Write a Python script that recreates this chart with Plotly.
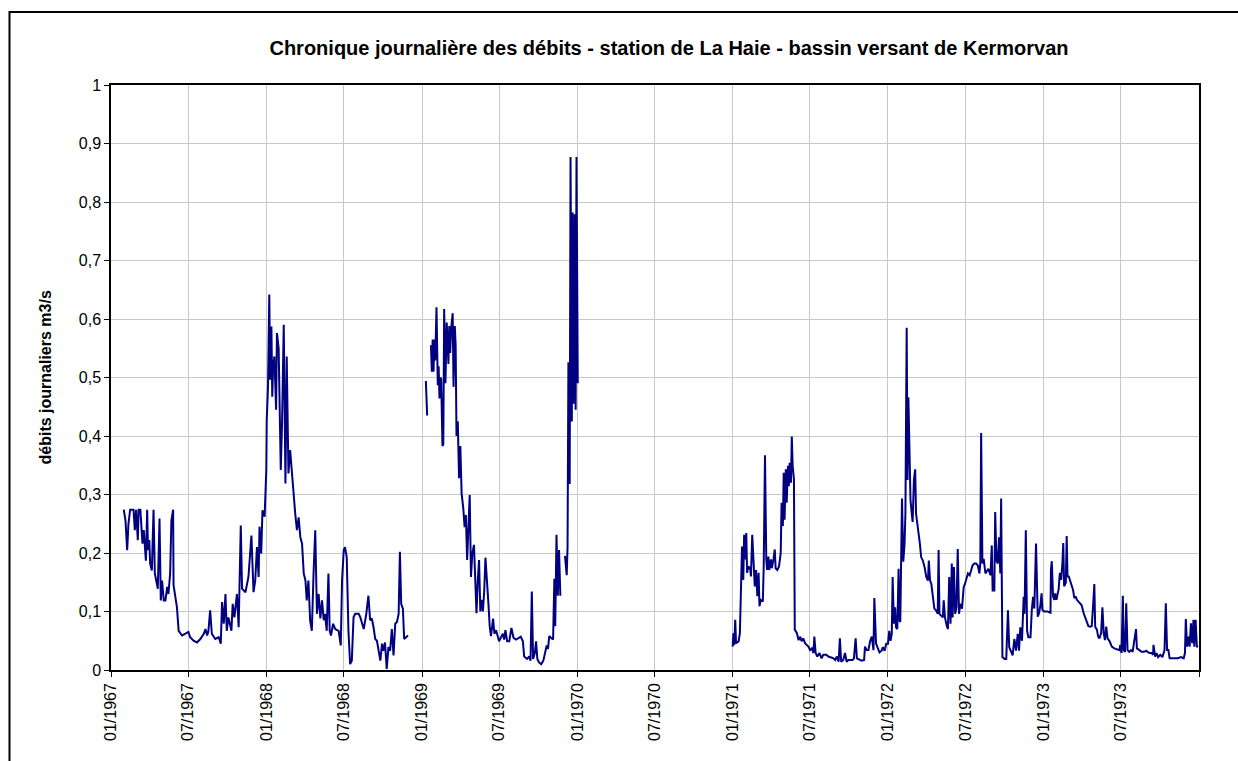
import pandas as pd
import plotly.graph_objects as go

BASE_DATE = "1967-01-01"

# Day index counted from 1967-01-01, daily flow (m3/s)
days_1967_68 = [30, 34, 38, 41, 45, 53, 56, 59, 63, 65,
                69, 71, 74, 77, 79, 82, 85, 87, 90, 92,
                96, 100, 103, 106, 110, 114, 117, 120, 124, 128,
                132, 135, 139, 142, 146, 147, 151, 155, 159, 167,
                175, 182, 186, 194, 202, 210, 218, 222, 226, 229,
                233, 237, 245, 253, 258, 261, 265, 269, 272, 276,
                283, 286, 290, 296, 300, 305, 308, 316, 323, 330,
                335, 339, 343, 347, 349, 353, 356, 361, 365,
                366, 369, 372, 374, 377, 379, 381, 384, 388, 390,
                394, 399, 402, 406, 410, 413, 417, 421, 425, 429,
                433, 437, 441, 445, 449, 453, 457, 460, 464, 468,
                472, 476, 480, 484, 488, 492, 496, 500, 503, 507,
                511, 514, 517, 522, 527, 535, 540, 543, 547, 550,
                554, 558, 562, 566, 570, 574, 582, 586, 594, 600,
                605, 609, 613, 617, 621, 625, 629, 633, 637, 640,
                644, 648, 652, 656, 660, 664, 668, 672, 676, 679,
                682, 686, 689, 693, 698]
q_1967_68 = [0.274, 0.256, 0.205, 0.25, 0.274, 0.274, 0.239, 0.274, 0.222, 0.274,
             0.274, 0.239, 0.216, 0.239, 0.216, 0.187, 0.274, 0.205, 0.222, 0.182,
             0.170, 0.274, 0.165, 0.153, 0.139, 0.259, 0.119, 0.153, 0.119, 0.119,
             0.142, 0.130, 0.165, 0.256, 0.274, 0.145, 0.125, 0.107, 0.067, 0.059,
             0.062, 0.065, 0.056, 0.050, 0.047, 0.053, 0.062, 0.070, 0.059, 0.067,
             0.102, 0.062, 0.053, 0.056, 0.045, 0.116, 0.079, 0.130, 0.067, 0.090,
             0.067, 0.113, 0.090, 0.130, 0.073, 0.247, 0.139, 0.133, 0.159, 0.230,
             0.133, 0.153, 0.210, 0.159, 0.245, 0.199, 0.273, 0.262, 0.342,
             0.427, 0.485, 0.642, 0.496, 0.587, 0.467, 0.519, 0.536, 0.445, 0.576,
             0.55, 0.342, 0.422, 0.590, 0.319, 0.536, 0.336, 0.376, 0.336, 0.313,
             0.267, 0.239, 0.261, 0.227, 0.216, 0.165, 0.153, 0.119, 0.153, 0.085,
             0.067, 0.165, 0.239, 0.096, 0.130, 0.088, 0.119, 0.085, 0.096, 0.067,
             0.165, 0.067, 0.059, 0.079, 0.070, 0.067, 0.042, 0.153, 0.205, 0.210,
             0.193, 0.067, 0.010, 0.016, 0.090, 0.096, 0.096, 0.090, 0.070, 0.096,
             0.127, 0.085, 0.088, 0.073, 0.053, 0.050, 0.033, 0.016, 0.045, 0.033,
             0.047, 0.002, 0.039, 0.033, 0.070, 0.025, 0.079, 0.082, 0.096, 0.202,
             0.113, 0.105, 0.053, 0.056, 0.059]

days_1969_a = [740, 743]
q_1969_a = [0.494, 0.435]

days_1969_b = [752, 754, 756, 758, 760, 762, 765, 768, 770, 772,
               774, 776, 779, 781, 783, 786, 789, 791, 793, 795,
               797, 800, 803, 805, 808, 810, 812, 815, 818, 821,
               824, 828, 831, 834, 837, 840, 843, 846, 849, 853,
               856, 859, 862, 865, 868, 871, 874, 877, 880, 884,
               887, 890, 893, 898, 901, 905, 912, 916, 921, 924,
               927, 931, 936, 941, 946, 952, 958, 963, 968, 971,
               978, 983, 986, 989, 992, 996, 999, 1002, 1006, 1011,
               1016, 1020, 1024, 1027, 1030, 1034, 1039, 1042, 1044, 1047,
               1050, 1053, 1056]
q_1969_b = [0.555, 0.51, 0.565, 0.51, 0.565, 0.529, 0.62, 0.487, 0.519, 0.464,
            0.50, 0.497, 0.383, 0.386, 0.617, 0.49, 0.594, 0.568, 0.523, 0.588,
            0.542, 0.588, 0.61, 0.484, 0.588, 0.555, 0.40, 0.425, 0.328, 0.383,
            0.302, 0.276, 0.244, 0.265, 0.188, 0.244, 0.299, 0.159, 0.198, 0.214,
            0.159, 0.097, 0.153, 0.188, 0.1, 0.12, 0.1, 0.133, 0.192, 0.133,
            0.114, 0.075, 0.058, 0.088, 0.062, 0.068, 0.049, 0.055, 0.062, 0.052,
            0.068, 0.049, 0.049, 0.072, 0.055, 0.052, 0.055, 0.057, 0.049, 0.023,
            0.019, 0.023, 0.016, 0.134, 0.019, 0.029, 0.049, 0.019, 0.013, 0.01,
            0.016, 0.029, 0.042, 0.036, 0.058, 0.055, 0.052, 0.156, 0.075, 0.231,
            0.127, 0.205, 0.127]

days_1969_c = [1067, 1071, 1073, 1075, 1078, 1080, 1083, 1085, 1087, 1090, 1092, 1094, 1097]
q_1969_c = [0.195, 0.162, 0.211, 0.526, 0.318, 0.877, 0.425, 0.782, 0.455, 0.779, 0.445, 0.877, 0.49]

days_1971_73 = [1461, 1463, 1465, 1467, 1469, 1475, 1478, 1481, 1483, 1486,
                1488, 1490, 1493, 1495, 1498, 1502, 1504, 1507, 1510, 1513,
                1516, 1519, 1522, 1524, 1527, 1532, 1534, 1537, 1540, 1542,
                1545, 1547, 1551, 1553, 1557, 1560, 1562, 1566, 1570, 1574,
                1576, 1579, 1581, 1583, 1586, 1588, 1591, 1593, 1595, 1598,
                1600, 1602, 1605, 1607, 1612, 1616, 1620, 1623, 1627, 1631,
                1635, 1639, 1643, 1647, 1651, 1653, 1656, 1660, 1665, 1670,
                1674, 1681, 1686, 1692, 1698, 1702, 1706, 1710, 1713, 1716,
                1721, 1725, 1729, 1733, 1739, 1743, 1746, 1750, 1753, 1759,
                1764, 1770, 1772, 1776, 1780, 1784, 1788, 1792, 1794,
                1798, 1802, 1806, 1811, 1814, 1818, 1822, 1826, 1829, 1832,
                1835, 1837, 1840, 1843, 1845, 1848, 1851, 1853, 1855, 1859,
                1862, 1865, 1867, 1870, 1872, 1874, 1877, 1879, 1882, 1884,
                1887, 1890, 1892, 1895, 1898, 1901, 1904, 1908, 1912, 1916,
                1920, 1922, 1925, 1928, 1931, 1935, 1939, 1943, 1945, 1947,
                1951, 1955, 1957, 1960, 1964, 1967, 1970, 1973, 1976, 1978,
                1981, 1984, 1987, 1990, 1993, 1996, 2000, 2004, 2007, 2011,
                2014, 2018, 2022, 2025, 2029, 2033, 2037, 2041, 2043, 2045,
                2048, 2051, 2055, 2059, 2062, 2067, 2070, 2072, 2076, 2078,
                2081, 2084, 2087, 2090, 2092, 2095, 2100, 2104, 2108, 2111,
                2116, 2119, 2123, 2127, 2131, 2134, 2137, 2141, 2145, 2147,
                2150, 2153, 2156, 2161, 2164, 2167, 2170, 2174,
                2178, 2181, 2184, 2187, 2189, 2193, 2201, 2208, 2209, 2211,
                2214, 2217, 2219, 2222, 2225, 2227, 2230, 2233, 2236, 2238,
                2240, 2244, 2246, 2248, 2251, 2255, 2258, 2261, 2264, 2267,
                2270, 2273, 2278, 2281, 2286, 2289, 2294, 2297, 2302, 2305,
                2308, 2311, 2313, 2317, 2320, 2323, 2327, 2330, 2333, 2336,
                2339, 2342, 2347, 2352, 2358, 2364, 2370, 2372, 2375, 2378,
                2380, 2383, 2386, 2389, 2393, 2397, 2401, 2409, 2411, 2417,
                2422, 2428, 2433, 2436, 2441, 2446, 2449, 2450, 2454, 2457,
                2461, 2466, 2471, 2476, 2479, 2482, 2485, 2488, 2493, 2499,
                2507, 2515, 2521, 2524, 2526, 2529, 2532, 2535, 2538, 2541,
                2544, 2546, 2549, 2552, 2555]
q_1971_73 = [0.04, 0.063, 0.043, 0.086, 0.046, 0.049, 0.063, 0.143, 0.211, 0.154,
             0.231, 0.189, 0.234, 0.166, 0.177, 0.174, 0.16, 0.231, 0.174, 0.143,
             0.171, 0.126, 0.166, 0.109, 0.12, 0.117, 0.177, 0.367, 0.189, 0.171,
             0.194, 0.171, 0.189, 0.174, 0.189, 0.206, 0.174, 0.171, 0.177, 0.2,
             0.286, 0.246, 0.337, 0.257, 0.343, 0.286, 0.349, 0.314, 0.354, 0.32,
             0.399, 0.349, 0.326, 0.069, 0.063, 0.051, 0.057, 0.049, 0.054, 0.046,
             0.043, 0.04, 0.034, 0.037, 0.029, 0.057, 0.029, 0.023, 0.029, 0.02,
             0.026, 0.026, 0.023, 0.021, 0.02, 0.017, 0.023, 0.014, 0.054, 0.014,
             0.017, 0.029, 0.014, 0.017, 0.017, 0.017, 0.02, 0.054, 0.02, 0.017,
             0.016, 0.017, 0.04, 0.034, 0.034, 0.049, 0.057, 0.034, 0.123,
             0.045, 0.036, 0.03, 0.033, 0.039, 0.033, 0.045, 0.045, 0.067, 0.050,
             0.062, 0.159, 0.079, 0.107, 0.073, 0.070, 0.173, 0.085, 0.082, 0.293,
             0.185, 0.216, 0.267, 0.585, 0.325, 0.466, 0.313, 0.290, 0.267, 0.253,
             0.325, 0.343, 0.267, 0.245, 0.233, 0.216, 0.193, 0.187, 0.176, 0.159,
             0.153, 0.187, 0.153, 0.147, 0.125, 0.105, 0.102, 0.096, 0.205, 0.096,
             0.093, 0.090, 0.119, 0.090, 0.076, 0.070, 0.159, 0.079, 0.182, 0.090,
             0.176, 0.096, 0.107, 0.207, 0.096, 0.113, 0.105, 0.142, 0.147, 0.156,
             0.165, 0.162, 0.170, 0.179, 0.182, 0.182, 0.179, 0.165, 0.182, 0.405,
             0.182, 0.190, 0.165, 0.170, 0.173, 0.162, 0.213, 0.136, 0.136, 0.270,
             0.187, 0.182, 0.227, 0.165, 0.293, 0.022, 0.019, 0.019, 0.102, 0.039,
             0.030, 0.025, 0.053, 0.033, 0.062, 0.033, 0.073, 0.050, 0.125, 0.096,
             0.239, 0.067, 0.056, 0.056, 0.102, 0.125, 0.105, 0.216,
             0.091, 0.097, 0.109, 0.131, 0.103, 0.1, 0.1, 0.098, 0.171, 0.186,
             0.126, 0.12, 0.131, 0.12, 0.131, 0.137, 0.166, 0.154, 0.183, 0.217,
             0.143, 0.149, 0.229, 0.160, 0.160, 0.149, 0.143, 0.137, 0.123, 0.126,
             0.12, 0.117, 0.114, 0.111, 0.097, 0.091, 0.083, 0.075, 0.074, 0.075,
             0.109, 0.147, 0.074, 0.069, 0.057, 0.054, 0.063, 0.107, 0.063, 0.051,
             0.074, 0.054, 0.049, 0.04, 0.037, 0.035, 0.034, 0.043, 0.029, 0.127,
             0.034, 0.031, 0.114, 0.034, 0.031, 0.034, 0.031, 0.07, 0.037, 0.034,
             0.031, 0.031, 0.033, 0.031, 0.029, 0.029, 0.026, 0.043, 0.023, 0.029,
             0.022, 0.026, 0.022, 0.034, 0.114, 0.034, 0.034, 0.02, 0.02, 0.02,
             0.02, 0.022, 0.02, 0.029, 0.087, 0.04, 0.057, 0.04, 0.08, 0.046,
             0.086, 0.04, 0.086, 0.04, 0.04]

tick_dates = ["1967-01-01", "1967-07-01", "1968-01-01", "1968-07-01",
              "1969-01-01", "1969-07-01", "1970-01-01", "1970-07-01",
              "1971-01-01", "1971-07-01", "1972-01-01", "1972-07-01",
              "1973-01-01", "1973-07-01", "1974-01-01"]
tick_labels = ["01/1967", "07/1967", "01/1968", "07/1968",
               "01/1969", "07/1969", "01/1970", "07/1970",
               "01/1971", "07/1971", "01/1972", "07/1972",
               "01/1973", "07/1973", ""]

TITLE = "Chronique journalière des débits - station de La Haie - bassin versant de Kermorvan"
Y_TITLE = "débits journaliers m3/s"

segments = [(days_1967_68, q_1967_68), (days_1969_a, q_1969_a),
            (days_1969_b, q_1969_b), (days_1969_c, q_1969_c),
            (days_1971_73, q_1971_73)]

base = pd.Timestamp(BASE_DATE)
xs, ys = [], []
for d_list, q_list in segments:
    for d, q in zip(d_list, q_list):
        xs.append((base + pd.Timedelta(days=d)).strftime("%Y-%m-%d"))
        ys.append(q)
    xs.append((base + pd.Timedelta(days=d_list[-1] + 1)).strftime("%Y-%m-%d"))
    ys.append(None)

FONT = "Liberation Sans, Arial, sans-serif"
W, H = 1238, 761
ML, MR, MT, MB = 111, 39, 85, 91
PW, PH = W - ML - MR, H - MT - MB

fig = go.Figure()
fig.add_trace(go.Scatter(x=xs, y=ys, mode="lines", connectgaps=False,
                         line=dict(color="#000080", width=2), showlegend=False,
                         hoverinfo="x+y"))

fig.update_layout(
    width=W, height=H,
    margin=dict(l=ML, r=MR, t=MT, b=MB, pad=0),
    paper_bgcolor="white", plot_bgcolor="white",
    separators=", ",
    font=dict(family=FONT, size=16, color="black"),
    title=dict(text="<b>" + TITLE + "</b>", x=(669 - ML) / PW, xref="paper", xanchor="center",
               y=1 - 48 / H, yref="container", yanchor="middle",
               font=dict(family=FONT, size=20, color="black")),
    xaxis=dict(type="date", range=["1967-01-01", "1974-01-01"],
               tickmode="array", tickvals=tick_dates, ticktext=tick_labels,
               tickangle=-90, ticks="outside", ticklen=5, tickcolor="black",
               tickfont=dict(family=FONT, size=16, color="black"),
               showgrid=True, gridcolor="#c8c8c8", gridwidth=1,
               showline=True, linecolor="black", linewidth=1.5, mirror=True,
               zeroline=False),
    yaxis=dict(range=[0, 1], dtick=0.1, tick0=0,
               ticks="outside", ticklen=5, tickcolor="black",
               tickfont=dict(family=FONT, size=16, color="black"),
               showgrid=True, gridcolor="#c8c8c8", gridwidth=1,
               showline=True, linecolor="black", linewidth=1.5, mirror=True,
               zeroline=False),
    annotations=[dict(text="<b>" + Y_TITLE + "</b>", textangle=-90,
                      xref="paper", yref="paper",
                      x=(45 - ML) / PW, y=0.5, xanchor="center", yanchor="middle",
                      showarrow=False, font=dict(family=FONT, size=16, color="black"))],
    shapes=[dict(type="rect", xref="paper", yref="paper",
                 x0=(9.5 - ML) / PW, x1=(W + 20 - ML) / PW,
                 y0=(H - MB - (H + 20)) / PH, y1=(H - MB - 12) / PH,
                 line=dict(color="black", width=2), fillcolor="rgba(0,0,0,0)",
                 layer="above")],
)

fig.write_html("out.html", config={"displayModeBar": False},
               post_script="document.body.style.margin='0';")
